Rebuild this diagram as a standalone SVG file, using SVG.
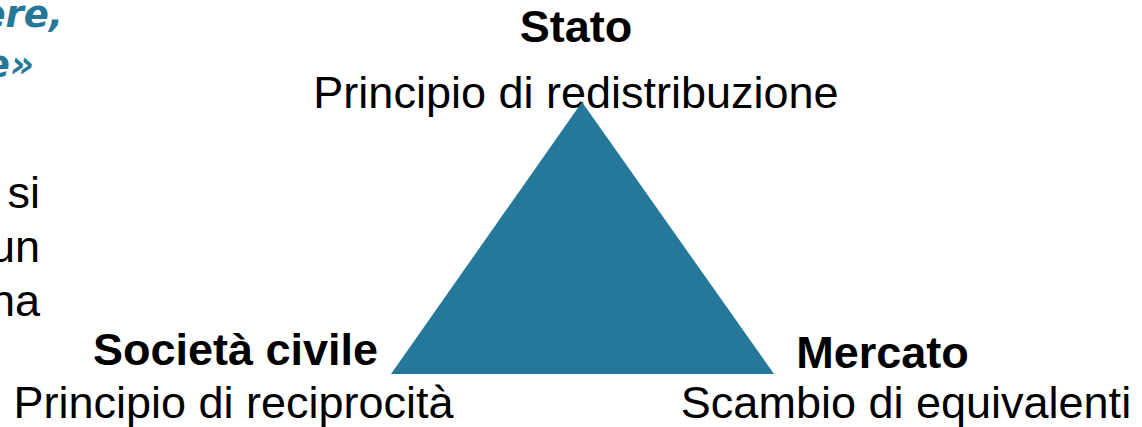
<svg xmlns="http://www.w3.org/2000/svg" width="1142" height="427" viewBox="0 0 1142 427">
<style>
.t{font-family:"Liberation Sans",Arial,sans-serif;font-size:45px;fill:#000}
.b{font-weight:bold}
.s{font-family:"DejaVu Sans","Noto Sans",sans-serif;font-style:italic;font-weight:bold;font-size:37px;fill:#26789a}
</style>
<rect width="1142" height="427" fill="#fff"/>
<g id="cropped-text">
<text class="s" x="63" y="27" text-anchor="end">ere,</text>
<text class="s" x="34" y="77" text-anchor="end">e»</text>
<text class="t" x="40" y="208" text-anchor="end">si</text>
<text class="t" x="40" y="262" text-anchor="end">un</text>
<text class="t" x="40" y="316" text-anchor="end">na</text>
</g>
<g id="stato">
<text class="t b" x="576" y="42" text-anchor="middle">Stato</text>
<text class="t" x="576" y="108" text-anchor="middle">Principio di redistribuzione</text>
</g>
<g id="societa">
<text class="t b" x="235.5" y="365" text-anchor="middle">Società civile</text>
<text class="t" x="233.5" y="418" text-anchor="middle">Principio di reciprocità</text>
</g>
<g id="mercato">
<text class="t b" x="882.5" y="368" text-anchor="middle">Mercato</text>
<text class="t" x="906" y="418" text-anchor="middle">Scambio di equivalenti</text>
</g>
<g id="triangle">
<polygon points="582,102 391,374 774,374" fill="#26789a"/>
</g>
<g id="connectors"></g>
</svg>
